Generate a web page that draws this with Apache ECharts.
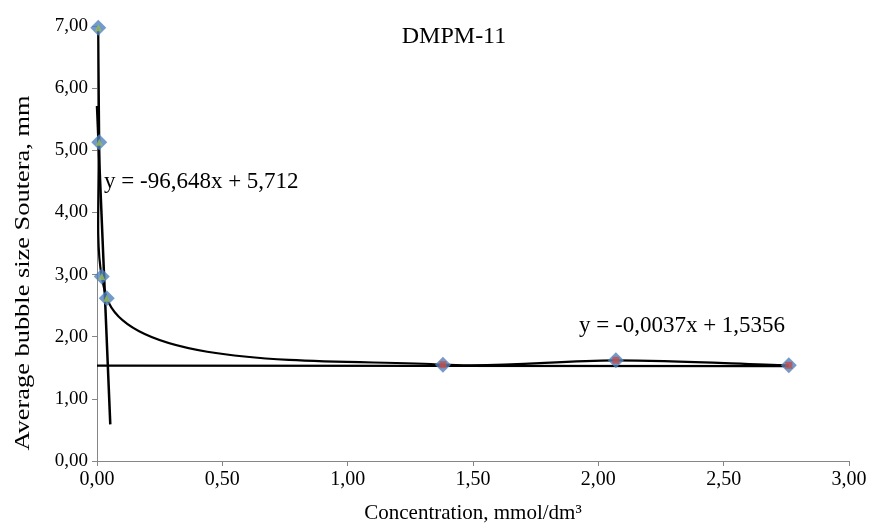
<!DOCTYPE html>
<html>
<head>
<meta charset="utf-8">
<script src="https://cdn.jsdelivr.net/npm/echarts@6/dist/echarts.min.js"></script>
<style>html,body{margin:0;padding:0;background:#fff}#c{width:881px;height:526px}</style>
</head>
<body>
<div id="c"></div>
<script>
// Data
var lowX = [0.005, 0.009, 0.019, 0.039];
var lowY = [6.97, 5.13, 2.97, 2.62];
var highX = [1.38, 2.07, 2.76];
var highY = [1.55, 1.62, 1.54];
var xTicks = [0, 0.5, 1, 1.5, 2, 2.5, 3];
var yTicks = [0, 1, 2, 3, 4, 5, 6, 7];
// Trendlines (equations as printed)
var trend1 = {slope: -96.648, intercept: 5.712, xFrom: 0, xTo: 0.053, label: 'y = -96,648x + 5,712'};
var trend2 = {slope: -0.0037, intercept: 1.5356, xFrom: 0, xTo: 2.76, label: 'y = -0,0037x + 1,5356'};
var titleText = 'DMPM-11';
var xName = 'Concentration, mmol/dm\u00B3';
var yName = 'Average bubble size Soutera, mm';

function pairs(xs, ys){ return xs.map(function(x,i){return [x, ys[i]];}); }
function trendPts(t){ return [[t.xFrom, t.intercept + t.slope*t.xFrom],[t.xTo, t.intercept + t.slope*t.xTo]]; }
var allPts = pairs(lowX.concat(highX), lowY.concat(highY));
var fmt = function(v){ return v.toFixed(2).replace('.', ','); };
var font = 'Liberation Serif';

// Smoothed line (Catmull-Rom style, in pixel space via the chart's scales)
function smoothRender(params, api){
  if (params.dataIndex !== 0) return null;
  var P = allPts.map(function(p){ return api.coord(p); });
  var n = P.length, alpha = 0.87;
  function s(a, b){ var dx = P[b][0]-P[a][0], dy = P[b][1]-P[a][1]; return Math.max(Math.pow(Math.sqrt(dx*dx+dy*dy), alpha), 1e-6); }
  function tan(k){
    if (k === 0){ var d = s(0,1); return [(P[1][0]-P[0][0])/d, (P[1][1]-P[0][1])/d]; }
    if (k === n-1){ var d2 = s(n-2,n-1); return [(P[n-1][0]-P[n-2][0])/d2, (P[n-1][1]-P[n-2][1])/d2]; }
    var d0 = s(k-1,k), d1 = s(k,k+1), w0 = d1/(d0*(d0+d1)), w1 = d0/(d1*(d0+d1));
    return [(P[k][0]-P[k-1][0])*w0 + (P[k+1][0]-P[k][0])*w1, (P[k][1]-P[k-1][1])*w0 + (P[k+1][1]-P[k][1])*w1];
  }
  var children = [];
  for (var i = 0; i < n-1; i++){
    var D = s(i, i+1), m0 = tan(i), m1 = tan(i+1);
    children.push({type: 'bezierCurve', shape: {
      x1: P[i][0], y1: P[i][1], x2: P[i+1][0], y2: P[i+1][1],
      cpx1: P[i][0] + m0[0]*D/3, cpy1: P[i][1] + m0[1]*D/3,
      cpx2: P[i+1][0] - m1[0]*D/3, cpy2: P[i+1][1] - m1[1]*D/3},
      style: {stroke: '#000', lineWidth: 2.2, fill: null}});
  }
  return {type: 'group', children: children};
}

var chart = echarts.init(document.getElementById('c'), null, {renderer:'canvas'});
chart.setOption({
  animation: false,
  backgroundColor: '#fff',
  title: {text: titleText, left: 449, top: 20, textAlign: 'center',
    textStyle: {fontFamily: font, fontSize: 24, fontWeight: 'normal', color: '#000'}},
  grid: {left: 97, right: 32, top: 26, bottom: 65, outerBoundsMode: 'none', containLabel: false},
  xAxis: {type: 'value', min: xTicks[0], max: xTicks[xTicks.length-1], interval: 0.5,
    name: xName, nameLocation: 'middle', nameGap: 42,
    nameTextStyle: {fontFamily: font, fontSize: 21, color: '#000'},
    axisLine: {show: true, lineStyle: {color: '#868686', width: 1}},
    axisTick: {show: true, inside: false, length: 5, lineStyle: {color: '#868686'}},
    axisLabel: {formatter: fmt, fontFamily: font, fontSize: 20, color: '#000', margin: 9},
    splitLine: {show: false}},
  yAxis: {type: 'value', min: yTicks[0], max: yTicks[yTicks.length-1], interval: 1,
    axisLine: {show: true, lineStyle: {color: '#868686', width: 1}},
    axisTick: {show: true, inside: false, length: 5, lineStyle: {color: '#868686'}},
    axisLabel: {formatter: fmt, fontFamily: font, fontSize: 19, color: '#000', margin: 9},
    splitLine: {show: false}},
  series: [
    {type: 'custom', coordinateSystem: 'cartesian2d', data: allPts, renderItem: smoothRender, z: 2, silent: true},
    {type: 'line', data: trendPts(trend1), showSymbol: false, symbol: 'none',
      lineStyle: {color: '#000', width: 2.5}, z: 2},
    {type: 'line', data: trendPts(trend2), showSymbol: false, symbol: 'none',
      lineStyle: {color: '#000', width: 2.2}, z: 2},
    {type: 'scatter', data: allPts, symbol: 'diamond', symbolSize: 16,
      itemStyle: {color: '#4F81BD'}, z: 3},
    {type: 'scatter', data: pairs(lowX, lowY), symbol: 'triangle', symbolSize: 7,
      itemStyle: {color: '#9BBB59'}, z: 4},
    {type: 'scatter', data: pairs(highX, highY), symbol: 'rect', symbolSize: 7,
      itemStyle: {color: '#C0504D'}, z: 4}
  ],
  graphic: [
    {type: 'text', left: 104, top: 170, style: {text: trend1.label, font: '23px "Liberation Serif"', fill: '#000'}},
    {type: 'text', left: 579, top: 314, style: {text: trend2.label, font: '23px "Liberation Serif"', fill: '#000'}},
    {type: 'text', x: 23, y: 273, rotation: Math.PI/2, scaleX: 1.2,
      style: {text: yName, font: '22px "Liberation Serif"', fill: '#000', align: 'center', verticalAlign: 'middle'}}
  ]
});
</script>
</body>
</html>
